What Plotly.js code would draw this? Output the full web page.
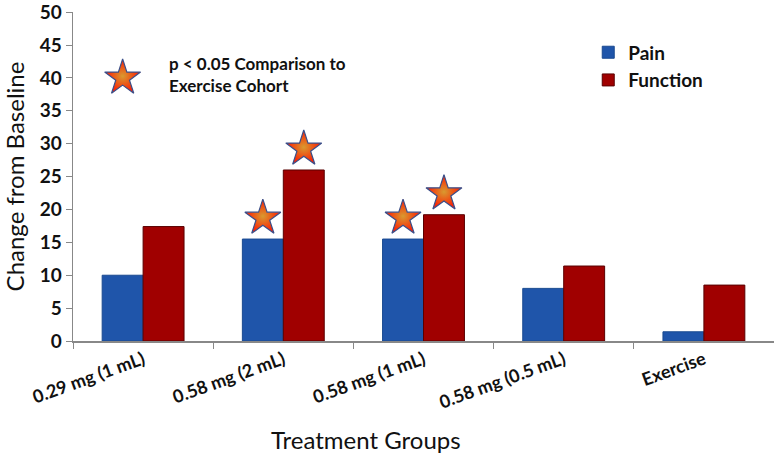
<!DOCTYPE html>
<html><head><meta charset="utf-8">
<script src="https://cdn.plot.ly/plotly-3.0.1.min.js"></script>
<style>html,body{margin:0;padding:0;background:#fff}</style>
</head><body><div id="chart" style="width:774px;height:460px"></div>
<script>
const categories = ["0.29 mg (1 mL)", "0.58 mg (2 mL)", "0.58 mg (1 mL)", "0.58 mg (0.5 mL)", "Exercise"];
const pain = [10, 15.5, 15.5, 8, 1.4];
const func = [17.4, 26, 19.2, 11.4, 8.5];
const painSignificant = [false, true, true, false, false];
const funcSignificant = [false, true, true, false, false];
const yTicks = [0, 5, 10, 15, 20, 25, 30, 35, 40, 45, 50];
const starOffset = 3.2;
const keyText = "p < 0.05 Comparison to<br>Exercise Cohort";

const font = "Lato, 'Open Sans', sans-serif";
const starMarker = {
  symbol: "star", size: 27,
  color: "#ff1800",
  gradient: {type: "radial", color: "#d89a30"},
  line: {color: "#3a4f8a", width: 1.2}
};

const traces = [
  {type: "bar", name: "Pain", x: categories, y: pain, offsetgroup: "p",
   marker: {color: "#1f55aa", line: {color: "#1a4a90", width: 1}}},
  {type: "bar", name: "Function", x: categories, y: func, offsetgroup: "f",
   marker: {color: "#a00000", line: {color: "#5a0000", width: 1}}},
  {type: "scatter", mode: "markers", showlegend: false, hoverinfo: "skip",
   x: categories, y: pain.map((v, i) => painSignificant[i] ? v + starOffset : null),
   offsetgroup: "p", marker: starMarker, cliponaxis: false},
  {type: "scatter", mode: "markers", showlegend: false, hoverinfo: "skip",
   x: categories, y: func.map((v, i) => funcSignificant[i] ? v + starOffset : null),
   offsetgroup: "f", marker: starMarker, cliponaxis: false},
  {type: "scatter", mode: "markers", showlegend: false, hoverinfo: "skip",
   x: [categories[0]], y: [40], marker: starMarker, cliponaxis: false}
];

const layout = {
  width: 774, height: 460,
  margin: {l: 73, r: 0, t: 12, b: 119},
  paper_bgcolor: "#fff", plot_bgcolor: "#fff",
  font: {family: font, color: "#111"},
  barmode: "group", bargap: 0.416, bargroupgap: 0,
  scattermode: "group", scattergap: 0.416,
  showlegend: true,
  legend: {x: 0.735, y: 0.935, xanchor: "left", yanchor: "top",
           font: {size: 19, family: font, weight: 700}, tracegroupgap: 2,
           itemwidth: 30, bgcolor: "rgba(0,0,0,0)"},
  xaxis: {type: "category", tickangle: -20, tickson: "boundaries",
          ticks: "outside", ticklen: 6, tickcolor: "#888",
          showline: true, linecolor: "#888", linewidth: 1.5,
          tickfont: {size: 18, family: font, weight: 700},
          showgrid: false, zeroline: false, fixedrange: true},
  yaxis: {range: [0, 50.02], tickmode: "array", tickvals: yTicks, ticktext: yTicks.map(String),
          ticklabeloverflow: "allow",
          ticks: "outside", ticklen: 6, tickcolor: "#888",
          showline: true, linecolor: "#888", linewidth: 1.5,
          tickfont: {size: 19, family: font, weight: 700},
          showgrid: false, zeroline: false,
          title: {text: "Change from Baseline", font: {size: 24, family: font}, standoff: 8}},
  annotations: [
    {xref: "paper", yref: "paper", x: 0.134, y: 0.81, xanchor: "left", yanchor: "middle",
     align: "left", showarrow: false, text: keyText,
     font: {size: 17, family: font, weight: 700}},
    {xref: "paper", yref: "paper", x: 0.418, y: -0.3, xanchor: "center", yanchor: "middle",
     showarrow: false, text: "Treatment Groups", font: {size: 24, family: font}}
  ]
};

Plotly.newPlot("chart", traces, layout, {displayModeBar: false, staticPlot: true});
</script></body></html>
